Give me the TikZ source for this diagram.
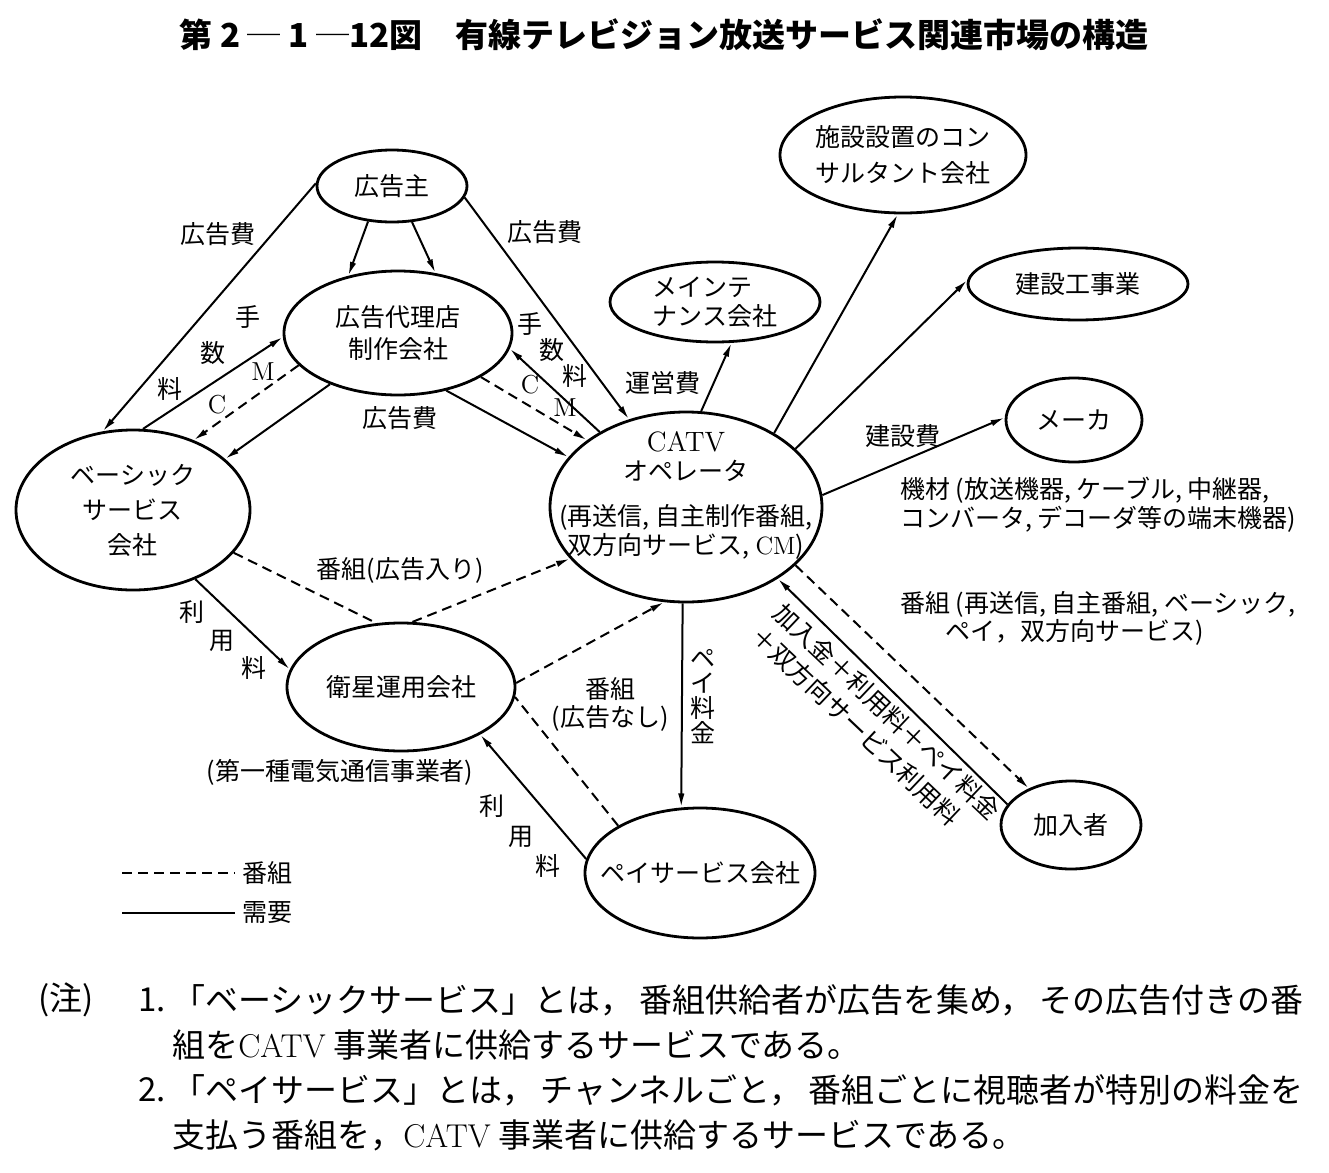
\documentclass[tikz,border=0pt]{standalone}
\usepackage{fontspec}
\usepackage{tikz}
\usetikzlibrary{arrows.meta,shapes.geometric}
\newfontfamily\jp{Noto Sans CJK JP}

\begin{document}
\begin{tikzpicture}[x=0.5pt,y=-0.5pt,>={Latex[length=7pt,width=3.2pt]},
  every node/.style={font=\jp\fontsize{12.5}{16}\selectfont},
  oval/.style={draw,ellipse,line width=1.4pt,inner sep=0pt},
  txt/.style={align=center,inner sep=0pt},
  need/.style={draw,line width=1pt},
  prog/.style={need,dash pattern=on 5pt off 3pt},
  note/.style={anchor=west,inner sep=0pt,font=\jp\fontsize{16.5}{18}\selectfont}]
\useasboundingbox (0,0) rectangle (1329,1173);

\node[font=\jp\bfseries\fontsize{16.5}{18}\selectfont] (title) at (664,35) {第 2 ─ 1 ─12図　有線テレビジョン放送サービス関連市場の構造};

\node[oval,minimum width=75pt,minimum height=36pt,label={[txt]center:広告主}] (adv) at (392,186) {};
\node[oval,minimum width=114pt,minimum height=62pt,label={[txt]center:{広告代理店\\制作会社}}] (agency) at (398,333) {};
\node[oval,minimum width=117pt,minimum height=80pt,label={[txt]center:{ベーシック\\[1.5pt]サービス\\[1.5pt]会社}}] (basic) at (133,510) {};
\node[oval,minimum width=136pt,minimum height=95pt,label={[txt,yshift=6pt]center:{{\rmfamily\fontsize{14}{16}\selectfont CATV}\\[-1.5pt]オペレータ\\[6.5pt](再送信, 自主制作番組,\\[-1.5pt]双方向サービス, {\rmfamily CM})}}] (catv) at (686,507) {};
\node[oval,minimum width=105pt,minimum height=40pt,label={[txt,align=left]center:{メインテ\\[-1.5pt]ナンス会社}}] (maint) at (715,302) {};
\node[oval,minimum width=123pt,minimum height=58pt,label={[txt]center:{施設設置のコン\\[2pt]サルタント会社}}] (consult) at (903,155) {};
\node[oval,minimum width=110pt,minimum height=36pt,label={[txt]center:建設工事業}] (constr) at (1078,284) {};
\node[oval,minimum width=68pt,minimum height=42pt,label={[txt]center:メーカ}] (maker) at (1074,420) {};
\node[oval,minimum width=70pt,minimum height=44pt,label={[txt]center:加入者}] (subs) at (1071,825) {};
\node[oval,minimum width=114pt,minimum height=64pt,label={[txt]center:衛星運用会社}] (sat) at (401,687) {};
\node[oval,minimum width=115pt,minimum height=65pt,label={[txt]center:ペイサービス会社}] (pay) at (700,873) {};

\draw[need,->] (adv.178) -- (basic.111);
\draw[need,->] (adv.236) -- (agency.131);
\draw[need,->] (adv.299) -- (agency.58);
\draw[need,->] (adv.351) -- (catv.123);
\draw[need,->] (basic.83) -- (agency.182);
\draw[prog,->] (agency.198) -- (basic.49);
\draw[need,->] (agency.217) -- (basic.29);
\draw[need,->] (catv.139) -- (agency.352);
\draw[prog,->] (agency.332) -- (catv.146);
\draw[need,->] (agency.310) -- (catv.157);
\draw[need,->] (catv.81) -- (maint.292);
\draw[need,->] (catv.40) -- (consult.265);
\draw[need,->] (catv.28) -- (constr.178);
\draw[need,->] (catv.5) -- (maker.178);
\draw[prog,->] (catv.332) -- (subs.139);
\draw[need,->] (subs.162) -- (catv.322);
\draw[prog] (basic.337) -- (sat.111);
\draw[prog,->] (sat.80) -- (catv.204);
\draw[need,->] (basic.312) -- (sat.171);
\draw[prog,->] (sat.2) -- (catv.257);
\draw[prog] (pay.150) -- (sat.355);
\draw[need,->] (pay.173) -- (sat.329);
\draw[need,->] (catv.268) -- (pay.106);

\node (fee1) at (218,234) {広告費};
\node (fee2) at (545,232) {広告費};
\node (fee3) at (400,418) {広告費};
\node[align=left,font=\jp\fontsize{12.5}{18}\selectfont] (comm1) at (209,353) {\hspace*{3.1em}手\\\hspace*{1.7em}数\\料};
\node[align=left,font=\jp\fontsize{12.5}{13}\selectfont] (comm2) at (552,350) {手\\\hspace*{0.9em}数\\\hspace*{1.8em}料};
\node[font=\rmfamily\fontsize{13}{15}\selectfont] (cm1m) at (263,372) {M};
\node[font=\rmfamily\fontsize{13}{15}\selectfont] (cm1c) at (217,405) {C};
\node[font=\rmfamily\fontsize{13}{15}\selectfont] (cm2c) at (530,385) {C};
\node[font=\rmfamily\fontsize{13}{15}\selectfont] (cm2m) at (565,408) {M};
\node (opfee) at (663,383) {運営費};
\node (buildfee) at (903,436) {建設費};
\node[align=left,anchor=west,font=\jp\fontsize{12.5}{14.5}\selectfont] (equip) at (893,505) {機材 (放送機器, ケーブル, 中継器,\\コンバータ, デコーダ等の端末機器)};
\node[align=left,anchor=west,font=\jp\fontsize{12.5}{14}\selectfont] (progC) at (893,618) {番組 (再送信, 自主番組, ベーシック,\\\hspace*{1.8em}ペイ，双方向サービス)};
\node[align=left,rotate=-43.5,inner sep=0pt,font=\jp\fontsize{12.5}{16}\selectfont] (subfee) at (876,723) {加入金＋利用料＋ペイ料金\\＋双方向サービス利用料};
\node (progA) at (400,570) {番組(広告入り)};
\node[align=center,font=\jp\fontsize{12.5}{14}\selectfont] (progB) at (610,704) {番組\\(広告なし)};
\node[align=center,font=\jp\fontsize{12.5}{12.5}\selectfont] (payfee) at (703,697) {ペ\\イ\\料\\金};
\node[align=left,font=\jp\fontsize{12.5}{14}\selectfont] (use1) at (223,640) {利\\\hspace*{1.2em}用\\\hspace*{2.5em}料};
\node[align=left,font=\jp\fontsize{12.5}{15}\selectfont] (use2) at (520,836) {利\\\hspace*{1.15em}用\\\hspace*{2.25em}料};
\node (sattype) at (340,772) {(第一種電気通信事業者)};

\coordinate (k1) at (122,873);
\coordinate (k2) at (122,913);
\node[anchor=west] (lgprog) at (235,873) {番組};
\node[anchor=west] (lgneed) at (235,913) {需要};
\draw[prog] (k1) -- (lgprog);
\draw[need] (k2) -- (lgneed);

\node[note] (n0) at (38,1000) {(注)};
\node[note] (n1) at (138,1000) {1.};
\node[note] (t1) at (172,1000) {「ベーシックサービス」とは，\,番組供給者が広告を集め，\,その広告付きの番};
\node[note] (t2) at (172,1045) {組を{\rmfamily CATV} 事業者に供給するサービスである。};
\node[note] (n2) at (138,1090) {2.};
\node[note] (t3) at (172,1090) {「ペイサービス」とは，\,チャンネルごと，\,番組ごとに視聴者が特別の料金を};
\node[note] (t4) at (172,1135) {支払う番組を，{\rmfamily CATV} 事業者に供給するサービスである。};
\end{tikzpicture}
\end{document}
